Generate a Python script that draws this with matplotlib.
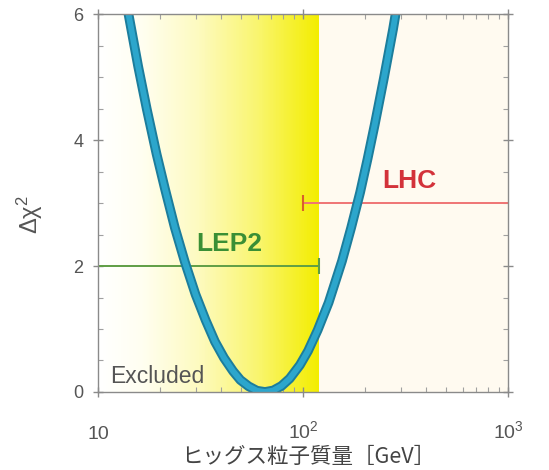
import numpy as np
import matplotlib.pyplot as plt
from matplotlib.colors import LinearSegmentedColormap
from matplotlib.ticker import FixedLocator, FixedFormatter, LogLocator, MultipleLocator, NullFormatter

plt.rcParams['font.family'] = ['Liberation Sans', 'Noto Sans CJK JP', 'DejaVu Sans']

# delta chi^2 of the fit vs Higgs mass (GeV)
mass = [12.4, 13.0, 13.85, 15.7, 17.3, 19.3, 21.2, 23.7, 26.5, 29.9, 33.5, 37.2, 41.2, 45.6, 49.5, 54.3, 59.6, 65.3,
        71.6, 78.5, 86.1, 96.6, 105.9, 118, 133.4, 155, 171.8, 190, 206.5, 224, 248, 275, 298.5, 327]
dchi2 = [7.0, 6.62, 6.13, 5.17, 4.49, 3.78, 3.23, 2.61, 2.07, 1.55, 1.14, 0.80, 0.54, 0.33, 0.19, 0.09, 0.02, 0.0,
         0.024, 0.095, 0.213, 0.428, 0.653, 0.985, 1.42, 2.08, 2.61, 3.17, 3.70, 4.25, 4.98, 5.76, 6.45, 7.25]

# search reaches
lep2_range = [10, 120]
lep2_level = 2
lhc_range = [100, 1000]
lhc_level = 3

fig = plt.figure(figsize=(5.49, 4.70), dpi=100)
ax = fig.add_axes([0.1785, 0.166, 0.7468, 0.804])
ax.set_facecolor('#fffaf0')
ax.set_xscale('log')
ax.set_xlim(10, 1000)
ax.set_ylim(0, 6)

# excluded region: white -> yellow shading up to the LEP2 limit
cmap = LinearSegmentedColormap.from_list('excl', [(0, '#ffffff'), (0.2, '#fffef0'), (0.45, '#fdfac0'),
                                                  (0.72, '#f9f570'), (1, '#f3ed00')])
xe = np.logspace(1, np.log10(lep2_range[1]), 300)
shade = np.linspace(0, 1, len(xe) - 1)[None, :]
ax.pcolormesh(xe, [0, 6], shade, cmap=cmap, shading='flat', zorder=0)

# reach lines
ax.plot(lep2_range, [lep2_level] * 2, color='#5f9e45', lw=1.4, zorder=2)
ax.plot([lep2_range[1]], [lep2_level], marker='|', ms=11, mew=1.5, color='#5f9e45', zorder=2)
ax.plot(lhc_range, [lhc_level] * 2, color='#ef7474', lw=1.4, zorder=2)
ax.plot([lhc_range[0]], [lhc_level], marker='|', ms=11, mew=1.5, color='#d9602a', zorder=2)

# fit band
ax.plot(mass, dchi2, color='#1c7d9c', lw=7, solid_capstyle='butt', solid_joinstyle='round', zorder=4)
ax.plot(mass, dchi2, color='#2ca6cc', lw=4.2, solid_capstyle='butt', solid_joinstyle='round', zorder=5)

ax.text(43.6, 2.35, 'LEP2', color='#3a8f35', fontsize=19, fontweight='bold', ha='center', va='center', zorder=6)
ax.text(329, 3.35, 'LHC', color='#d3323a', fontsize=19, fontweight='bold', ha='center', va='center', zorder=6)
ax.text(11.4, 0.24, 'Excluded', color='#555555', fontsize=16.5, ha='left', va='center', zorder=6)

# ticks and spines
for s in ax.spines.values():
    s.set_color('#8a8a8a')
    s.set_linewidth(1.0)
    s.set_zorder(7)
ax.xaxis.set_major_locator(FixedLocator([10, 100, 1000]))
ax.xaxis.set_major_formatter(FixedFormatter(['10', r'$\mathregular{10^2}$', r'$\mathregular{10^3}$']))
ax.xaxis.set_minor_locator(LogLocator(base=10, subs=np.arange(2, 10)))
ax.xaxis.set_minor_formatter(NullFormatter())
ax.yaxis.set_major_locator(FixedLocator([0, 2, 4, 6]))
ax.yaxis.set_minor_locator(MultipleLocator(0.5))
ax.tick_params(which='major', direction='inout', length=7, width=1, color='#8a8a8a',
               top=True, right=True, labelsize=14, labelcolor='#555555')
ax.tick_params(which='minor', direction='in', length=3.5, width=0.8, color='#a0a0a0', top=True, right=True)
ax.tick_params(axis='x', which='major', pad=30)
ax.tick_params(axis='y', which='major', pad=7, labelsize=13)
for lab in ax.get_xticklabels():
    lab.set_va('baseline')

fig.text(0.561, 0.028, 'ヒッグス粒子質量［GeV］', fontsize=15.5, color='#444444',
         family=['Noto Sans CJK JP', 'DejaVu Sans'], ha='center', va='center')
ax.set_ylabel(r'$\mathregular{\Delta\chi^2}$', fontsize=17, color='#555555')
ax.yaxis.set_label_coords(-0.13, 0.47)

fig.savefig('out.png', dpi=100)
